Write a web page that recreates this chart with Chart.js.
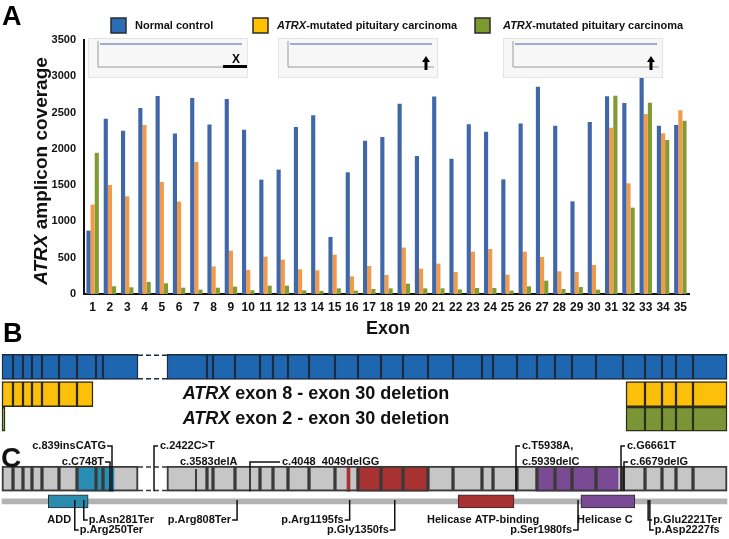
<!DOCTYPE html>
<html>
<head>
<meta charset="utf-8">
<script src="https://cdn.jsdelivr.net/npm/chart.js@4/dist/chart.umd.min.js"></script>
<style>
  html, body { margin: 0; padding: 0; background: #fff; }
  #wrap { width: 729px; height: 539px; overflow: hidden; }
  canvas { display: block; }
</style>
</head>
<body>
<div id="wrap">
  <canvas id="covChart" width="729" height="343"></canvas>
  <canvas id="mapChart" width="729" height="196"></canvas>
</div>
<script>
// ---- panel A data: amplicon coverage per exon ----
var exons = ['1','2','3','4','5','6','7','8','9','10','11','12','13','14','15','16','17','18',
             '19','20','21','22','23','24','25','26','27','28','29','30','31','32','33','34','35'];
var normalCtrl = [873,2416,2251,2563,2729,2210,2701,2334,2687,2265,1576,1714,2302,2462,786,1677,2113,2164,
                  2623,1902,2720,1865,2338,2237,1580,2348,2857,2320,1277,2370,2724,2632,2977,2320,2329];
var tumourA = [1231,1502,1346,2329,1544,1273,1819,381,597,331,515,473,340,326,542,243,386,262,
               639,349,418,303,583,620,266,583,510,312,303,400,2292,1525,2481,2214,2531];
var tumourB = [1948,106,92,165,147,87,60,87,101,51,115,115,51,41,78,46,69,78,
               142,78,78,64,83,83,46,106,184,69,96,60,2733,1190,2637,2122,2389];
var seriesNames = ['Normal control', 'ATRX-mutated pituitary carcinoma', 'ATRX-mutated pituitary carcinoma'];
var yTicks = [0, 500, 1000, 1500, 2000, 2500, 3000, 3500];

// ---- panel B data: exon map (diagram units) ----
var exonEdges = [2,13,23,32,42,59,77,96,103,138,167,207,213,235,260,273,288,309,335,358,381,403,428,453,482,
                 493,517,537,555,572,596,623,645,662,676,693,727];
var gapSpan = [138, 167];
var keptDel8to30 = [[2,13],[13,23],[23,32],[32,42],[42,59],[59,77],[77,93],[626,645],[645,662],[662,676],[676,693],[693,727]];
var keptDel2to30 = [[2,5],[626,645],[645,662],[662,676],[676,693],[693,727]];
var delLabels = ['ATRX exon 8 - exon 30 deletion', 'ATRX exon 2 - exon 30 deletion'];

// ---- panel C data ----
var shadeSpans = [[77,114],[347,350],[357,428],[536,618]];
var proteinLen = 2492;
var domainNames = ['ADD', 'Helicase ATP-binding', 'Helicase C'];
var domainSpans = [[159,296],[1568,1760],[1990,2175]];
var cdnaMuts = ['c.839insCATG','c.C748T','c.2422C>T','c.3583delA','c.4048_4049delGG','c.T5938A,','c.5939delC','c.G6661T','c.6679delG'];
var cdnaPos = [112,110,154,196,250,516,516,621,624];
var protMuts = ['p.Arg250Ter','p.Asn281Ter','p.Arg808Ter','p.Arg1195fs','p.Gly1350fs','p.Ser1980fs','p.Glu2221Ter','p.Asp2227fs'];
var protPos = [250,281,808,1195,1350,1980,2221,2227];

var FONT = '"Liberation Sans", Arial, "DejaVu Sans", sans-serif';
var barCols = ['#4068a8', '#f09a4a', '#809c32'];
var keyCols = ['#2a6db5', '#ffc000', '#7a9a2e'];

function richText(ctx, s, x, y, size, align) {
  var lead = s.indexOf('ATRX') === 0 ? 'ATRX' : '';
  var rest = s.slice(lead.length);
  ctx.font = 'italic bold ' + size + 'px ' + FONT;
  var w1 = ctx.measureText(lead).width;
  ctx.font = 'bold ' + size + 'px ' + FONT;
  var w2 = ctx.measureText(rest).width;
  var x0 = x;
  if (align === 'center') x0 = x - (w1 + w2) / 2;
  if (align === 'right') x0 = x - w1 - w2;
  ctx.textAlign = 'left';
  if (lead) {
    ctx.font = 'italic bold ' + size + 'px ' + FONT;
    ctx.fillText(lead, x0, y);
  }
  ctx.font = 'bold ' + size + 'px ' + FONT;
  ctx.fillText(rest, x0 + w1, y);
}

// legend, inset thumbnails, titles
var coverageDecor = {
  id: 'coverageDecor',
  afterDraw: function(chart) {
    var ctx = chart.ctx;
    ctx.save();
    ctx.fillStyle = '#000';
    ctx.textBaseline = 'alphabetic';
    ctx.font = 'bold 27px ' + FONT;
    ctx.fillText('A', 2, 25);
    ctx.fillText('B', 3, 342);

    // legend
    var lx = [111, 253, 475];
    chart.data.datasets.forEach(function(ds, i) {
      ctx.fillStyle = keyCols[i];
      ctx.fillRect(lx[i], 18, 15, 15);
      ctx.strokeStyle = '#2b2b2b';
      ctx.lineWidth = 1.5;
      ctx.strokeRect(lx[i], 18, 15, 15);
      ctx.fillStyle = '#111';
      ctx.textBaseline = 'middle';
      richText(ctx, ds.label, lx[i] + 24 + (i === 2 ? 4 : 0), 26, 11, 'left');
    });

    // coverage overview thumbnails
    var boxes = [[88, 248], [278, 438], [503, 663]];
    boxes.forEach(function(b, i) {
      ctx.fillStyle = '#f7f7f7';
      ctx.fillRect(b[0], 38, b[1] - b[0], 40);
      ctx.strokeStyle = '#e4e4e4';
      ctx.lineWidth = 1;
      ctx.strokeRect(b[0] + 0.5, 38.5, b[1] - b[0] - 1, 39);
      ctx.strokeStyle = '#9a9a9a';
      ctx.beginPath();
      ctx.moveTo(b[0] + 10, 41); ctx.lineTo(b[0] + 10, 67); ctx.lineTo(b[1] - 4, 67);
      ctx.stroke();
      ctx.strokeStyle = '#4b5fa6';
      ctx.beginPath();
      ctx.moveTo(b[0] + 12, 44);
      ctx.lineTo(b[1] - 6, 44);
      ctx.stroke();
      if (i > 0) {
        var ax = b[1] - 12;
        ctx.fillStyle = '#000';
        ctx.fillRect(ax - 1.5, 61, 3, 9);
        ctx.beginPath();
        ctx.moveTo(ax - 4, 62); ctx.lineTo(ax, 56); ctx.lineTo(ax + 4, 62);
        ctx.closePath(); ctx.fill();
      } else {
        ctx.fillStyle = '#000';
        ctx.fillRect(223, 65, 24, 3);
        ctx.font = 'bold 12px ' + FONT;
        ctx.textAlign = 'center';
        ctx.textBaseline = 'alphabetic';
        ctx.fillText('X', 236, 63);
        ctx.textAlign = 'left';
      }
    });

    // y title
    ctx.fillStyle = '#111';
    ctx.save();
    ctx.translate(47, 171);
    ctx.rotate(-Math.PI / 2);
    ctx.textBaseline = 'alphabetic';
    richText(ctx, 'ATRX amplicon coverage', 0, 0, 19, 'center');
    ctx.restore();

    // x title
    ctx.font = 'bold 18px ' + FONT;
    ctx.textAlign = 'center';
    ctx.textBaseline = 'middle';
    ctx.fillText('Exon', 388, 329);
    ctx.restore();
  }
};

new Chart(document.getElementById('covChart'), {
  type: 'bar',
  data: {
    labels: exons,
    datasets: [
      { label: seriesNames[0], data: normalCtrl, backgroundColor: barCols[0] },
      { label: seriesNames[1], data: tumourA, backgroundColor: barCols[1] },
      { label: seriesNames[2], data: tumourB, backgroundColor: barCols[2] }
    ]
  },
  options: {
    responsive: false,
    animation: false,
    devicePixelRatio: 1,
    layout: { padding: { top: 40, right: 40, left: 0, bottom: 0 } },
    datasets: { bar: { categoryPercentage: 0.72, barPercentage: 1, borderWidth: 0 } },
    plugins: { legend: { display: false }, tooltip: { enabled: false } },
    scales: {
      x: {
        grid: { display: false, drawTicks: false },
        border: { color: '#111', width: 2 },
        ticks: { color: '#111', padding: 6, maxRotation: 0, autoSkip: false,
                 font: { family: FONT, size: 12, weight: 'bold' } },
        afterFit: function(s) { s.height = 49; }
      },
      y: {
        min: 0, max: 3500,
        afterBuildTicks: function(s) { s.ticks = yTicks.map(function(v) { return { value: v }; }); },
        grid: { display: false, drawTicks: false },
        border: { color: '#111', width: 2 },
        ticks: { color: '#111', padding: 8, font: { family: FONT, size: 11, weight: 'bold' },
                 callback: function(v) { return String(v); } },
        afterFit: function(s) { s.width = 84; }
      }
    }
  },
  plugins: [coverageDecor]
});

// ---- panels B and C ----
var ROW = { blue: 16.5, orange: 46.5, green: 74, cExon: 139.5, protein: 164.5 };

function pairsFromEdges(edges) {
  var out = [];
  for (var i = 0; i < edges.length - 1; i++) {
    if (edges[i] === gapSpan[0]) continue;
    out.push([edges[i], edges[i + 1]]);
  }
  return out;
}
function rowData(pairs, y) {
  return pairs.map(function(p) { return { x: [p[0], p[1]], y: y }; });
}
var exonPairs = pairsFromEdges(exonEdges);

var mapDecor = {
  id: 'mapDecor',
  afterDatasetsDraw: function(chart) {
    var ctx = chart.ctx, sx = chart.scales.x, sp = chart.scales.xp, sy = chart.scales.y;
    ctx.save();
    // dashed gap in exon maps
    ctx.setLineDash([5, 3]);
    ctx.lineWidth = 1.5;
    [[ROW.blue, 12.5, '#1b2b40'], [ROW.cExon, 12.5, '#3a3a3a']].forEach(function(r) {
      ctx.strokeStyle = r[2];
      var yc = sy.getPixelForValue(r[0]);
      [yc - r[1] + 0.75, yc + r[1] - 0.75].forEach(function(yy) {
        ctx.beginPath();
        ctx.moveTo(sx.getPixelForValue(gapSpan[0]), yy);
        ctx.lineTo(sx.getPixelForValue(gapSpan[1]), yy);
        ctx.stroke();
      });
    });
    ctx.setLineDash([]);

    ctx.fillStyle = '#111';
    ctx.textBaseline = 'middle';
    richText(ctx, delLabels[0], 316, sy.getPixelForValue(ROW.orange), 18, 'center');
    richText(ctx, delLabels[1], 316, sy.getPixelForValue(ROW.green), 18, 'center');

    ctx.font = 'bold 28px ' + FONT;
    ctx.textBaseline = 'alphabetic';
    ctx.textAlign = 'left';
    ctx.fillText('C', 1, 124);

    // cDNA mutations above exon row
    var lvlY = [103, 119];
    var rowBot = sy.getPixelForValue(ROW.cExon) + 12.5;
    var cLay = [['L', 0], ['L', 1], ['R', 0], ['U', 1], ['R', 1, 30], ['R', 0], ['T', 1], ['R', 0], ['R', 1]];
    ctx.strokeStyle = '#111';
    ctx.lineWidth = 1.5;
    ctx.font = 'bold 11px ' + FONT;
    ctx.textBaseline = 'middle';
    cdnaMuts.forEach(function(m, i) {
      var x = sx.getPixelForValue(cdnaPos[i]);
      var L = cLay[i], y = lvlY[L[1]];
      ctx.beginPath();
      if (L[0] === 'L') {
        ctx.moveTo(x - 5, y); ctx.lineTo(x, y); ctx.lineTo(x, rowBot);
        ctx.textAlign = 'right'; ctx.fillText(m, x - 6, y);
      } else if (L[0] === 'R') {
        var h = L[2] || 4;
        ctx.moveTo(x + h, y); ctx.lineTo(x, y); ctx.lineTo(x, rowBot);
        ctx.textAlign = 'left'; ctx.fillText(m, x + h + 2, y);
      } else if (L[0] === 'U') {
        ctx.moveTo(x, y + 7); ctx.lineTo(x, rowBot);
        ctx.textAlign = 'left'; ctx.fillText(m, x - 16, y);
      } else {
        ctx.textAlign = 'left'; ctx.fillText(m, x + 6, y);
      }
      ctx.stroke();
    });

    // protein mutations and domain names below
    var pY = [177, 187];
    var pLay = [['R', 1], ['R', 0], ['L', 0], ['L', 0], ['L', 1], ['L', 1], ['R', 0], ['R', 1]];
    protMuts.forEach(function(m, i) {
      var x = sp.getPixelForValue(protPos[i]);
      var L = pLay[i], y = pY[L[1]];
      ctx.beginPath();
      ctx.moveTo(x, 157);
      ctx.lineTo(x, y);
      if (L[0] === 'R') {
        ctx.lineTo(x + 4, y);
        ctx.textAlign = 'left'; ctx.fillText(m, x + 5, y);
      } else {
        ctx.lineTo(x - 5, y);
        ctx.textAlign = 'right'; ctx.fillText(m, x - 6, y);
      }
      ctx.stroke();
    });
    domainNames.forEach(function(d, i) {
      var a = sp.getPixelForValue(domainSpans[i][0]), b = sp.getPixelForValue(domainSpans[i][1]);
      if (i === 0) { ctx.textAlign = 'left'; ctx.fillText(d, a - 1, pY[0]); }
      else { ctx.textAlign = 'center'; ctx.fillText(d, (a + b) / 2 - 3, pY[0]); }
    });
    ctx.restore();
  }
};

// Chart.js paints the first dataset last, so outlines come before fills here
new Chart(document.getElementById('mapChart'), {
  type: 'bar',
  data: {
    datasets: [
      { data: rowData(exonPairs, ROW.blue), backgroundColor: '#1e66b0', borderColor: '#1b2b40', borderWidth: 1.5, barThickness: 25 },
      { data: rowData(keptDel8to30, ROW.orange), backgroundColor: '#fcc00a', borderColor: '#2e2a1a', borderWidth: 1.5, barThickness: 25 },
      { data: rowData(keptDel2to30, ROW.green), backgroundColor: '#7b9536', borderColor: '#2a2f1a', borderWidth: 1.5, barThickness: 24 },
      { data: rowData(exonPairs, ROW.cExon), backgroundColor: 'rgba(0,0,0,0)', borderColor: '#3a3a3a', borderWidth: 1.3, barThickness: 25 },
      { data: rowData(shadeSpans, ROW.cExon), backgroundColor: ['#2a8db3', '#a83232', '#a83232', '#7a4a94'], borderWidth: 0, barThickness: 25 },
      { data: rowData(exonPairs, ROW.cExon), backgroundColor: '#c6c6c6', borderWidth: 0, barThickness: 25 },
      { data: rowData(domainSpans, ROW.protein), xAxisID: 'xp', backgroundColor: ['#2b8cb0', '#a83232', '#7a4a94'], borderColor: '#2b2b2b', borderWidth: 1, barThickness: 13 },
      { data: rowData([[0, proteinLen]], ROW.protein), xAxisID: 'xp', backgroundColor: '#b3b3b3', borderWidth: 0, barThickness: 5 }
    ]
  },
  options: {
    indexAxis: 'y',
    responsive: false,
    animation: false,
    devicePixelRatio: 1,
    layout: { padding: 0 },
    datasets: { bar: { grouped: false, borderSkipped: false } },
    plugins: { legend: { display: false }, tooltip: { enabled: false } },
    scales: {
      x: { type: 'linear', min: 0, max: 729, display: false },
      xp: { type: 'linear', axis: 'x', min: -7, max: 2499, display: false },
      y: { type: 'linear', min: 0, max: 196, reverse: true, display: false }
    }
  },
  plugins: [mapDecor]
});
</script>
</body>
</html>
